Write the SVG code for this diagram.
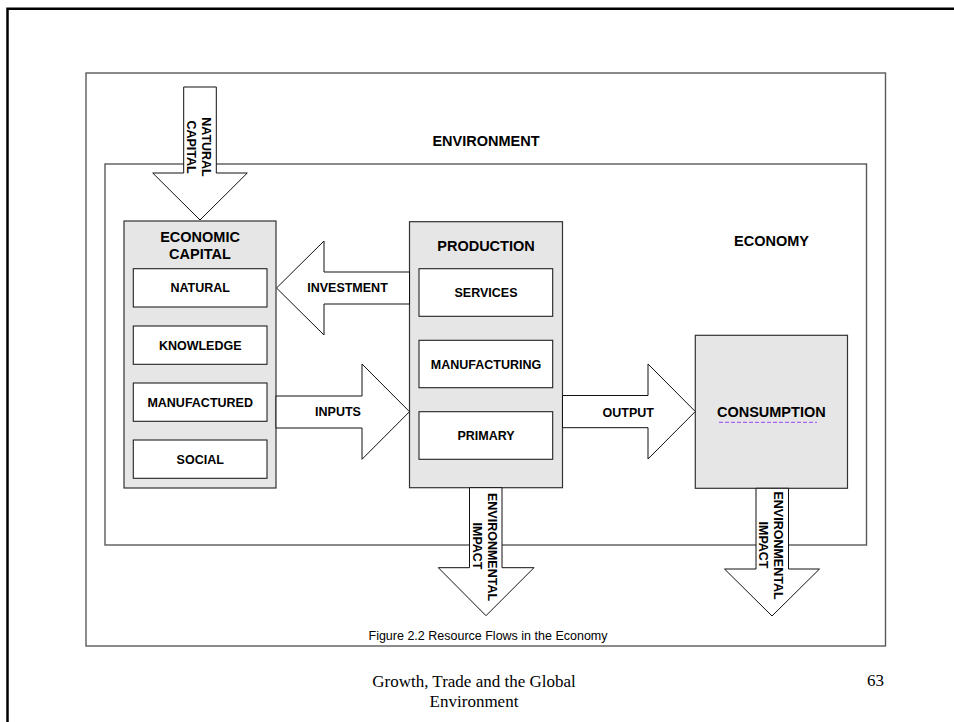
<svg xmlns="http://www.w3.org/2000/svg" width="954" height="722" viewBox="0 0 954 722">
<style>
text{font-family:"Liberation Sans",Arial,sans-serif;fill:#000}
.h{font-size:14.5px;font-weight:bold}
.l{font-size:12.5px;font-weight:bold}
.cap{font-size:12.5px}
.foot{font-family:"Liberation Serif","Times New Roman",serif;font-size:17px}
.frame{fill:none;stroke:#5a5a5a;stroke-width:1.4}
.box{fill:#e6e6e6;stroke:#333;stroke-width:1.2}
.sub{fill:#fff;stroke:#222;stroke-width:1.1}
.arrow{fill:#fff;stroke:#111;stroke-width:1}
</style>
<rect width="954" height="722" fill="#fff"/>
<path d="M7.5,722 V8.7 H954" fill="none" stroke="#000" stroke-width="2.5"/>
<g id="environment">
<rect class="frame" x="86" y="73" width="799.5" height="573"/>
<text class="h" x="486" y="146" text-anchor="middle">ENVIRONMENT</text>
</g>
<g id="economy">
<rect class="frame" x="105" y="164" width="761.5" height="381"/>
<text class="h" x="771.5" y="246" text-anchor="middle">ECONOMY</text>
</g>
<g id="economic-capital">
<rect class="box" x="124" y="221" width="152" height="267"/>
<text class="h" x="200" y="242" text-anchor="middle">ECONOMIC</text>
<text class="h" x="200" y="259" text-anchor="middle">CAPITAL</text>
<rect class="sub" x="133.3" y="268.7" width="133.7" height="38.3"/>
<text class="l" x="200.2" y="292" text-anchor="middle">NATURAL</text>
<rect class="sub" x="133.3" y="326" width="133.7" height="38.3"/>
<text class="l" x="200.2" y="349.5" text-anchor="middle">KNOWLEDGE</text>
<rect class="sub" x="133.3" y="383" width="133.7" height="38.3"/>
<text class="l" x="200.2" y="406.5" text-anchor="middle">MANUFACTURED</text>
<rect class="sub" x="133.3" y="440" width="133.7" height="38.3"/>
<text class="l" x="200.2" y="463.5" text-anchor="middle">SOCIAL</text>
</g>
<g id="production">
<rect class="box" x="409.5" y="221.7" width="153" height="266"/>
<text class="h" x="486" y="251" text-anchor="middle">PRODUCTION</text>
<rect class="sub" x="419" y="268.7" width="133.7" height="47.6"/>
<text class="l" x="486" y="297" text-anchor="middle">SERVICES</text>
<rect class="sub" x="419" y="340.3" width="133.7" height="47.4"/>
<text class="l" x="486" y="368.5" text-anchor="middle">MANUFACTURING</text>
<rect class="sub" x="419" y="411.7" width="133.7" height="47.6"/>
<text class="l" x="486" y="440" text-anchor="middle">PRIMARY</text>
</g>
<g id="consumption">
<rect class="box" x="695.3" y="335.3" width="152.2" height="153"/>
<text class="h" x="771.3" y="416.7" text-anchor="middle">CONSUMPTION</text>
<line x1="719" y1="422.3" x2="817" y2="422.3" stroke="#a866f0" stroke-width="1.3" stroke-dasharray="4,2"/>
</g>
<g id="connectors">
<g id="natural-capital">
<polygon class="arrow" points="183.7,87 216.3,87 216.3,173 247.3,173 200,220 152.7,173 183.7,173"/>
<text class="l" transform="translate(201.7,147) rotate(90)" text-anchor="middle">NATURAL</text>
<text class="l" transform="translate(186.5,147) rotate(90)" text-anchor="middle">CAPITAL</text>
</g>
<g id="investment">
<polygon class="arrow" points="409.5,272 324,272 324,241 276.5,288 324,335 324,304 409.5,304"/>
<text class="l" x="347.5" y="292" text-anchor="middle">INVESTMENT</text>
</g>
<g id="inputs">
<polygon class="arrow" points="276,396 362,396 362,364 409.5,411.7 362,459.3 362,428 276,428"/>
<text class="l" x="338" y="416" text-anchor="middle">INPUTS</text>
</g>
<g id="output">
<polygon class="arrow" points="562.5,395.5 648,395.5 648,364 695.3,411.5 648,459 648,427.7 562.5,427.7"/>
<text class="l" x="628.3" y="416.5" text-anchor="middle">OUTPUT</text>
</g>
<g id="impact-production">
<polygon class="arrow" points="469.5,487.7 502,487.7 502,567.7 534,567.7 486,615.7 438.3,567.7 469.5,567.7"/>
<text class="l" transform="translate(488,547) rotate(90)" text-anchor="middle">ENVIRONMENTAL</text>
<text class="l" transform="translate(473,546) rotate(90)" text-anchor="middle">IMPACT</text>
</g>
<g id="impact-consumption">
<polygon class="arrow" points="756,488.3 788.5,488.3 788.5,569 819.5,569 772,616 724.5,569 756,569"/>
<text class="l" transform="translate(773.5,545.5) rotate(90)" text-anchor="middle">ENVIRONMENTAL</text>
<text class="l" transform="translate(758.8,545) rotate(90)" text-anchor="middle">IMPACT</text>
</g>
</g>
<g id="caption">
<text class="cap" x="488" y="639.5" text-anchor="middle">Figure 2.2 Resource Flows in the Economy</text>
</g>
<g id="footer">
<text class="foot" x="474" y="687" text-anchor="middle">Growth, Trade and the Global</text>
<text class="foot" x="474" y="707" text-anchor="middle">Environment</text>
<text class="foot" x="875.5" y="686" text-anchor="middle">63</text>
</g>
</svg>
